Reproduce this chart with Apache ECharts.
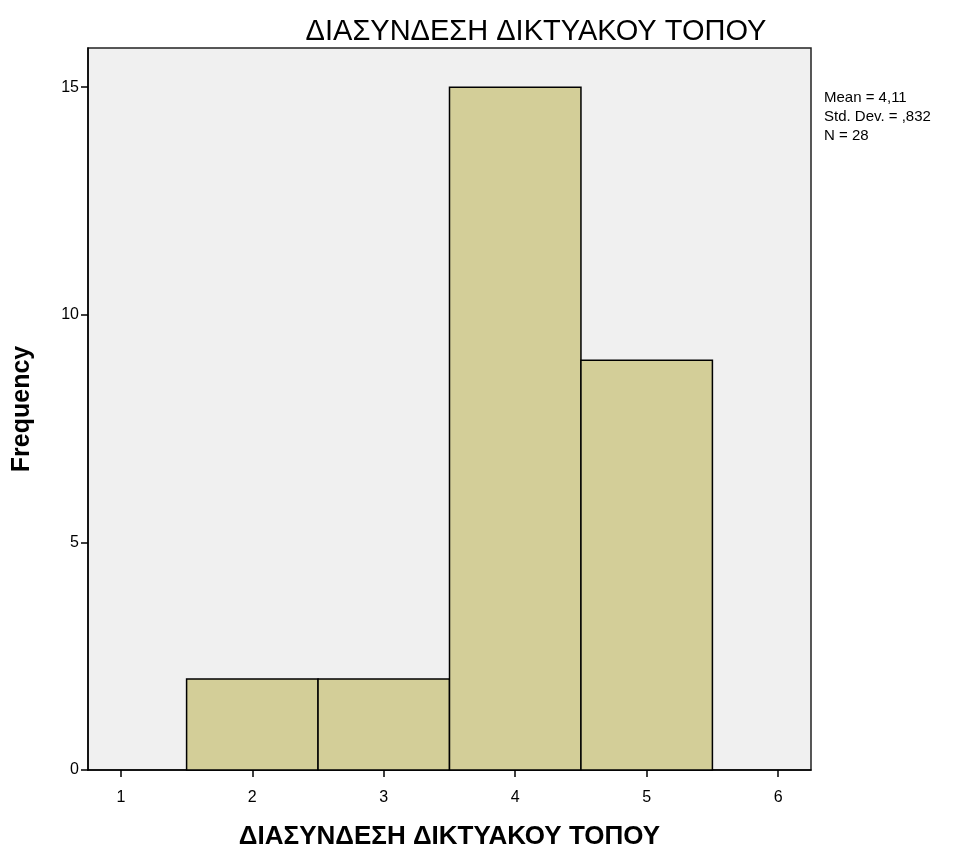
<!DOCTYPE html>
<html>
<head>
<meta charset="utf-8">
<script src="https://cdn.jsdelivr.net/npm/echarts@6/dist/echarts.min.js"></script>
<style>
  * { margin: 0; padding: 0; }
  body { background: #fff; }
</style>
</head>
<body>
<div id="main" style="width:964px;height:848px;background:white;"></div>
<script>
// histogram bins (from / to) and frequencies
var binLow = [1.5, 2.5, 3.5, 4.5];
var binHigh = [2.5, 3.5, 4.5, 5.5];
var counts = [2, 2, 15, 9];
var xTicks = [1, 2, 3, 4, 5, 6];
var yTicks = [0, 5, 10, 15];
var statsLines = ["Mean = 4,11", "Std. Dev. = ,832", "N = 28"];

var chart = echarts.init(document.getElementById("main"));

var data = [];
for (var i = 0; i < counts.length; i++) {
  data.push([binLow[i], binHigh[i], counts[i]]);
}

chart.setOption({
  animation: false,
  title: [
    {
      text: "ΔΙΑΣΥΝΔΕΣΗ ΔΙΚΤΥΑΚΟΥ ΤΟΠΟΥ",
      left: 536,
      top: 17,
      padding: 0,
      textAlign: "center",
      textStyle: {
        color: "#000",
        fontFamily: "Liberation Sans, Arial, sans-serif",
        fontWeight: "normal",
        fontSize: 29
      }
    },
    {
      text: statsLines.join("\n"),
      left: 824,
      top: 88,
      padding: 0,
      textStyle: {
        color: "#000",
        fontFamily: "Liberation Sans, Arial, sans-serif",
        fontWeight: "normal",
        fontSize: 15,
        lineHeight: 19
      }
    }
  ],
  grid: {
    left: 88,
    right: 153,
    top: 48,
    bottom: 78,
    containLabel: false,
    outerBoundsMode: "none",
    show: true,
    backgroundColor: "#f0f0f0",
    borderColor: "#222",
    borderWidth: 1.5
  },
  xAxis: {
    type: "value",
    min: 0.75,
    max: 6.25,
    name: "ΔΙΑΣΥΝΔΕΣΗ ΔΙΚΤΥΑΚΟΥ ΤΟΠΟΥ",
    nameLocation: "middle",
    nameGap: 54,
    nameTextStyle: {
      color: "#000",
      fontFamily: "Liberation Sans, Arial, sans-serif",
      fontWeight: "bold",
      fontSize: 26
    },
    axisLine: { show: true, onZero: false, lineStyle: { color: "#000", width: 1.5 } },
    axisTick: { show: true, length: 7, customValues: xTicks, lineStyle: { color: "#000", width: 1.5 } },
    axisLabel: {
      customValues: xTicks,
      margin: 20,
      color: "#000",
      fontFamily: "Liberation Sans, Arial, sans-serif",
      fontSize: 16
    },
    splitLine: { show: false }
  },
  yAxis: {
    type: "value",
    min: 0,
    max: 15.86,
    name: "Frequency",
    nameLocation: "middle",
    nameGap: 53,
    nameTextStyle: {
      color: "#000",
      fontFamily: "Liberation Sans, Arial, sans-serif",
      fontWeight: "bold",
      fontSize: 25
    },
    axisLine: { show: true, lineStyle: { color: "#000", width: 1.5 } },
    axisTick: { show: true, length: 7, customValues: yTicks, lineStyle: { color: "#000", width: 1.5 } },
    axisLabel: {
      customValues: yTicks,
      margin: 9,
      color: "#000",
      fontFamily: "Liberation Sans, Arial, sans-serif",
      fontSize: 16
    },
    splitLine: { show: false }
  },
  series: [
    {
      type: "custom",
      data: data,
      encode: { x: [0, 1], y: 2 },
      renderItem: function (params, api) {
        var p0 = api.coord([api.value(0), api.value(2)]);
        var p1 = api.coord([api.value(1), 0]);
        return {
          type: "rect",
          shape: { x: p0[0], y: p0[1], width: p1[0] - p0[0], height: p1[1] - p0[1] },
          style: { fill: "#d3ce98", stroke: "#000", lineWidth: 1.5 }
        };
      }
    }
  ]
});
</script>
</body>
</html>
